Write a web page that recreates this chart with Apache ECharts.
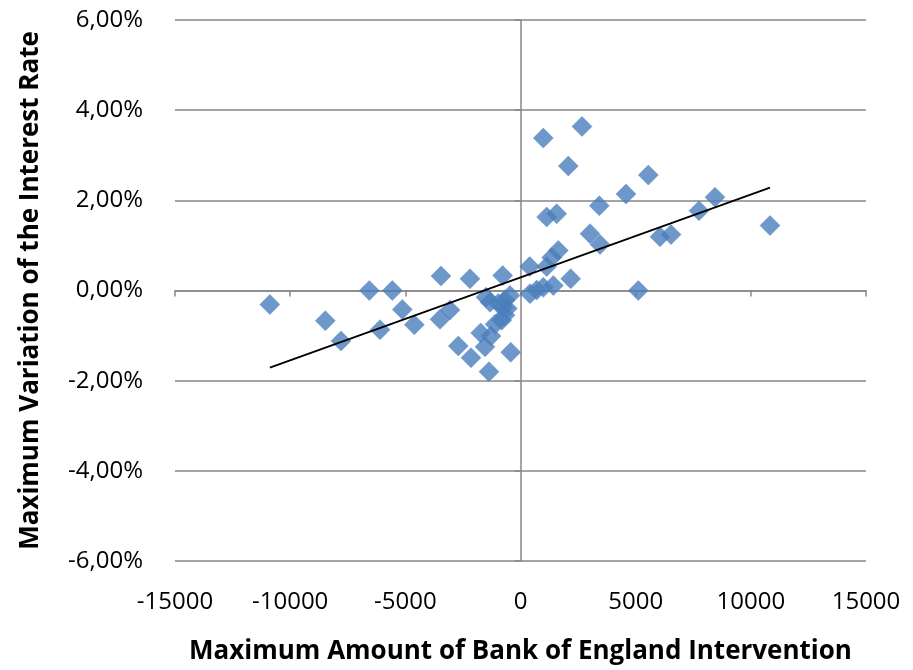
<!DOCTYPE html>
<html>
<head>
<meta charset="utf-8">
<script src="https://cdn.jsdelivr.net/npm/echarts@6/dist/echarts.min.js"></script>
<style>
  html, body { margin: 0; padding: 0; background: #fff; }
  #chart { width: 913px; height: 670px; }
</style>
</head>
<body>
<div id="chart"></div>
<script>
// Bank of England intervention (amount) vs. maximum interest-rate variation (%)
const interventionAmount = [
  -10880, -8475, -7794, -6565, -6100, -5566, -5132, -4611, -3452, -3495,
  -3061, -2700, -2193, -2150, -1728, -1541, -1368, -1281, -1107, -816,
  -673, -573, -425, -773, -1498, -1324, -964, -747, -456, -673,
  400, 412, 703, 990, 1424, 2179, 1137, 1355, 1641, 990,
  2670, 2076, 1137, 1572, 3018, 3452, 3422, 4581, 5549, 5115,
  6057, 6535, 7750, 8445, 10833
];
const rateVariation = [
  -0.31, -0.67, -1.12, 0.00, -0.87, 0.00, -0.42, -0.76, 0.32, -0.64,
  -0.43, -1.23, 0.26, -1.49, -0.94, -1.25, -1.80, -1.01, -0.75, -0.66,
  -0.55, -0.40, -1.37, 0.33, -0.15, -0.26, -0.29, -0.37, -0.11, -0.21,
  0.53, -0.07, 0.01, 0.07, 0.11, 0.26, 0.53, 0.73, 0.89, 3.38,
  3.64, 2.76, 1.63, 1.70, 1.26, 1.02, 1.88, 2.14, 2.56, 0.00,
  1.19, 1.24, 1.77, 2.07, 1.44
];
// Linear trend line end points (amount, %)
const trendX = [-10880, 10833];
const trendY = [-1.71, 2.28];

const xTicks = { min: -15000, max: 15000, step: 5000 };
const yTicks = { min: -6, max: 6, step: 2 };

const points = interventionAmount.map((x, i) => [x, rateVariation[i]]);
const trend = trendX.map((x, i) => [x, trendY[i]]);

const axisGrey = '#868686';
const labelFont = { fontFamily: 'Open Sans', fontSize: 24, color: '#000' };
const titleFont = { fontFamily: 'Open Sans', fontSize: 26, fontWeight: 'bold', color: '#000' };

const chart = echarts.init(document.getElementById('chart'), null, { renderer: 'canvas' });
chart.setOption({
  animation: false,
  backgroundColor: '#fff',
  grid: { left: 175, right: 47, top: 20, bottom: 104, containLabel: false },
  xAxis: [
    {
      type: 'value', min: xTicks.min, max: xTicks.max, interval: xTicks.step,
      axisLine: { show: true, onZero: true, lineStyle: { color: axisGrey, width: 1.5 } },
      axisTick: { show: true, length: 6, lineStyle: { color: axisGrey, width: 1.5 } },
      axisLabel: { show: false },
      splitLine: { show: false }
    },
    {
      type: 'value', min: xTicks.min, max: xTicks.max, interval: xTicks.step,
      position: 'bottom',
      axisLine: { show: false, onZero: false },
      axisTick: { show: false },
      splitLine: { show: false },
      axisLabel: Object.assign({ margin: 29, formatter: v => String(v) }, labelFont),
      name: 'Maximum Amount of Bank of England Intervention',
      nameLocation: 'middle', nameGap: 78,
      nameTextStyle: titleFont
    }
  ],
  yAxis: [
    {
      type: 'value', min: yTicks.min, max: yTicks.max, interval: yTicks.step,
      axisLine: { show: true, onZero: true, lineStyle: { color: axisGrey, width: 1.5 } },
      axisTick: { show: true, length: 6, lineStyle: { color: axisGrey, width: 1.5 } },
      axisLabel: { show: false },
      splitLine: { show: true, lineStyle: { color: axisGrey, width: 1.5 } }
    },
    {
      type: 'value', min: yTicks.min, max: yTicks.max, interval: yTicks.step,
      position: 'left',
      axisLine: { show: false, onZero: false },
      axisTick: { show: false },
      splitLine: { show: false },
      axisLabel: Object.assign({
        margin: 32,
        formatter: v => v.toFixed(2).replace('.', ',') + '%'
      }, labelFont),
      name: 'Maximum Variation of the Interest Rate',
      nameLocation: 'middle', nameGap: 131, nameRotate: 90,
      nameTextStyle: titleFont
    }
  ],
  series: [
    {
      type: 'scatter', xAxisIndex: 0, yAxisIndex: 0,
      symbol: 'diamond', symbolSize: 20,
      itemStyle: { color: '#4A7EBB', borderColor: '#4A7EBB', borderWidth: 0.5 },
      data: points, z: 3
    },
    {
      type: 'line', xAxisIndex: 0, yAxisIndex: 0,
      data: trend, symbol: 'none',
      lineStyle: { color: '#000', width: 1.8 }, z: 4
    }
  ]
});
</script>
</body>
</html>
